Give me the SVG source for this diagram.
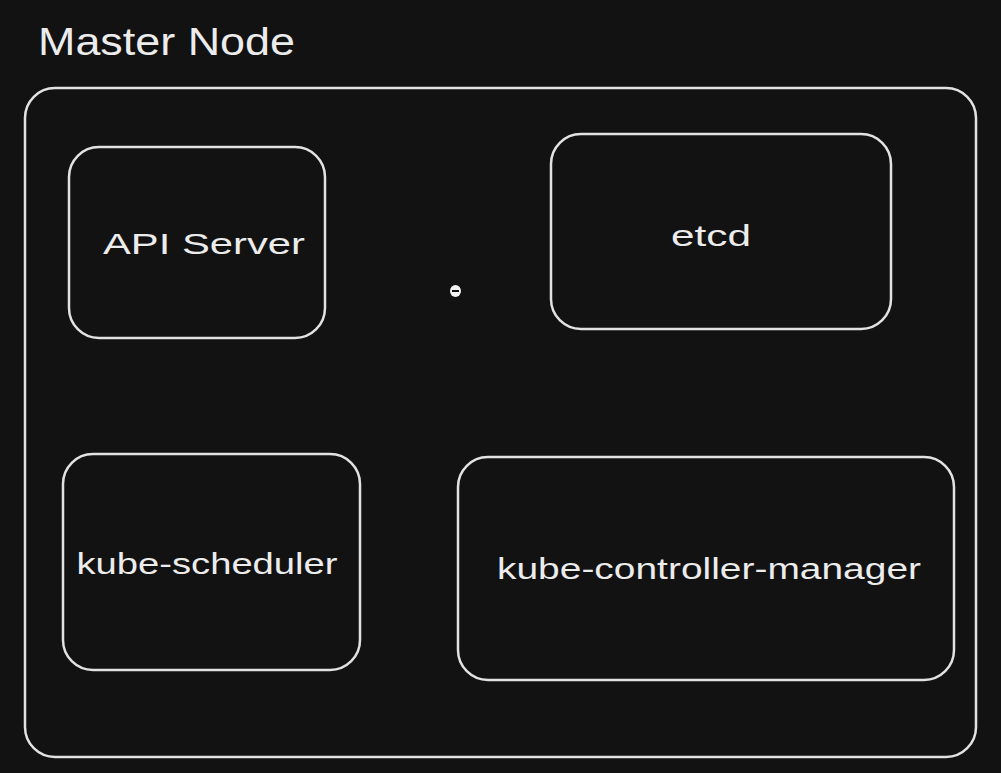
<svg xmlns="http://www.w3.org/2000/svg" width="1001" height="773" viewBox="0 0 1001 773">
<style>
.box{fill:none;stroke:#e2e2e2;stroke-width:2.5}
.lbl{fill:#ececec;font-family:"Liberation Sans",Arial,sans-serif;font-size:30px;text-anchor:middle;dominant-baseline:central}
.title{fill:#ececec;font-family:"Liberation Sans",Arial,sans-serif;font-size:38px}
</style>
<rect width="1001" height="773" fill="#121212"/>
<text class="title" x="38" y="55" textLength="257" lengthAdjust="spacingAndGlyphs">Master Node</text>
<g id="master-node">
<rect class="box" x="25" y="88" width="951" height="669" rx="30"/>
</g>
<g id="api-server">
<rect class="box" x="69" y="147" width="256" height="191" rx="30"/>
<text class="lbl" x="204" y="243" textLength="202" lengthAdjust="spacingAndGlyphs">API Server</text>
</g>
<g id="etcd">
<rect class="box" x="551" y="134" width="340" height="195" rx="30"/>
<text class="lbl" x="711" y="235" textLength="80" lengthAdjust="spacingAndGlyphs">etcd</text>
</g>
<g id="kube-scheduler">
<rect class="box" x="63" y="454" width="297" height="216" rx="30"/>
<text class="lbl" x="207" y="563" textLength="261" lengthAdjust="spacingAndGlyphs">kube-scheduler</text>
</g>
<g id="kube-controller-manager">
<rect class="box" x="458" y="457" width="496" height="223" rx="30"/>
<text class="lbl" x="709" y="568" textLength="424" lengthAdjust="spacingAndGlyphs">kube-controller-manager</text>
</g>
<g id="connectors"></g>
<g id="dot">
<ellipse cx="455.5" cy="291" rx="5.5" ry="6" fill="#f2f2f2"/>
<line x1="452" y1="291" x2="459" y2="291" stroke="#121212" stroke-width="2"/>
</g>
</svg>
